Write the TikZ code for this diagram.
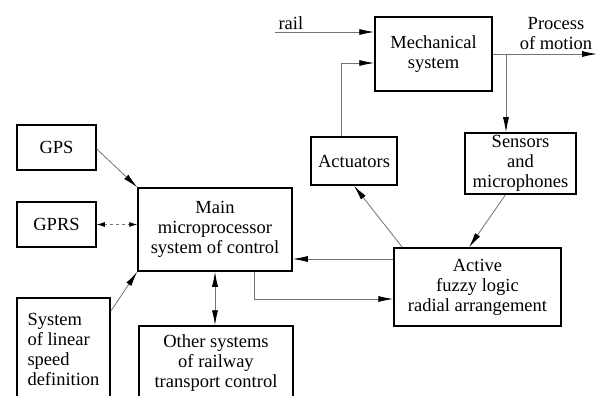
\documentclass[tikz,border=0pt]{standalone}
\usepackage{fontspec}
\setmainfont{Liberation Serif}
\usetikzlibrary{arrows.meta,positioning}

\tikzset{
  box/.style={draw,line width=1.5pt,inner sep=2pt,align=center},
  arr/.style={draw=black!55,line width=0.8pt,-{Latex[length=15pt,width=6pt,black]}},
  barr/.style={draw=black!55,line width=0.8pt,{Latex[length=15pt,width=6pt,black]}-{Latex[length=15pt,width=6pt,black]}},
  darr/.style={draw=black!55,line width=0.8pt,dashed,{Latex[length=8pt,width=5pt,black]}-{Latex[length=8pt,width=5pt,black]}}
}

\begin{document}
\begin{tikzpicture}[x=1pt,y=-1pt,font=\fontsize{18.5}{20}\selectfont]
  \useasboundingbox (0,0) rectangle (598,396);
  \clip (0,0) rectangle (598,396);
  %draw the blocks
  \node (mech) [box,minimum width=117,minimum height=74] at (433.5,54) {Mechanical\\system};
  \node (act) [box,minimum width=86,minimum height=48] at (354,161) {Actuators};
  \node (sens) [box,minimum width=111,minimum height=61] at (520.5,163.5) {Sensors\\and\\microphones};
  \node (gps) [box,minimum width=79,minimum height=45] at (56.5,147.5) {GPS};
  \node (gprs) [box,minimum width=79,minimum height=45] at (56.5,224.5) {GPRS};
  \node (main) [box,minimum width=154,minimum height=83] at (215,229.5) {Main\\microprocessor\\system of control};
  \node (speed) [box,align=left,minimum width=93,minimum height=102] at (63.5,349) {System\\of linear\\speed\\definition};
  \node (other) [box,minimum width=154,minimum height=74] at (216,363) {Other systems\\of railway\\transport control};
  \node (fuzzy) [box,minimum width=167,minimum height=78] at (477.5,287) {Active\\fuzzy logic\\radial arrangement};
  %free ends and labels
  \coordinate (railin) at (275,32);
  \coordinate (out) at (597,54);
  \coordinate (split) at (506,54);
  \node (rail) [above right=-1pt and 0pt of railin] {rail};
  \node (motion) [align=center] at (556,34) {Process\\of motion};
  %draw the connectors
  \draw [arr] (railin) -- ([yshift=22pt]mech.west);
  \draw [arr] ([xshift=31pt]act.north west) |- ([yshift=-9pt]mech.west);
  \draw [arr] (mech.east) -- (out);
  \draw [arr] (split) -- (split |- sens.north);
  \draw [arr] ([yshift=-1.5pt]gps.east) -- (main.north west);
  \draw [darr] (gprs.east) -- (gprs.east -| main.west);
  \draw [arr] ([yshift=-14pt]speed.north east) -- (main.south west);
  \draw [barr] (main.south) -- (main.south |- other.north);
  \draw [arr] ([xshift=9pt]fuzzy.north west) -- (act.south);
  \draw [arr] ([xshift=-15pt]sens.south) -- ([xshift=-8.5pt]fuzzy.north);
  \draw [arr] ([yshift=28pt]fuzzy.west) -- ([yshift=28pt]fuzzy.west -| main.east);
  \draw [arr] ([xshift=39pt]main.south) |- ([yshift=-12pt]fuzzy.west);
\end{tikzpicture}
\end{document}
